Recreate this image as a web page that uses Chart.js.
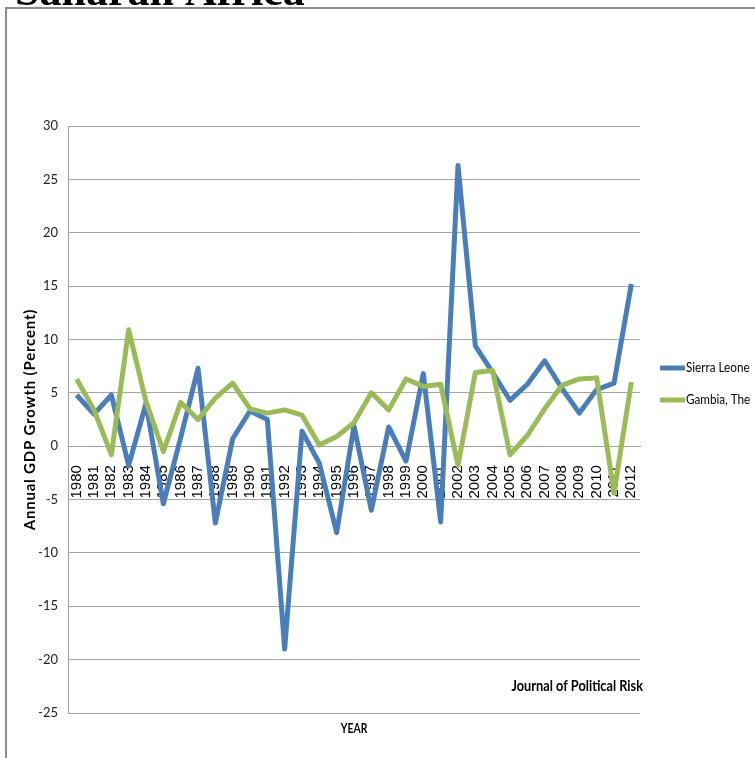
<!DOCTYPE html>
<html>
<head>
<meta charset="utf-8">
<script src="https://cdn.jsdelivr.net/npm/chart.js@4.4.1/dist/chart.umd.min.js"></script>
<style>
    html, body { margin: 0; padding: 0; background: #ffffff; overflow: hidden; }
    #graphGdp { display: block; }
</style>
</head>
<body>
<canvas id="graphGdp" width="755" height="758"></canvas>
<script>
// values
const years = ['1980','1981','1982','1983','1984','1985','1986','1987','1988','1989',
               '1990','1991','1992','1993','1994','1995','1996','1997','1998','1999',
               '2000','2001','2002','2003','2004','2005','2006','2007','2008','2009',
               '2010','2011','2012'];

const sierra_leone = [4.8, 3.0, 4.8, -1.8, 4.0, -5.4, 0.8, 7.3, -7.2, 0.7,
                      3.3, 2.5, -19.0, 1.4, -1.6, -8.1, 1.9, -6.0, 1.8, -1.4,
                      6.8, -7.1, 26.3, 9.4, 6.9, 4.3, 5.8, 8.0, 5.4, 3.1,
                      5.3, 5.9, 15.2];

const gambia = [6.3, 3.4, -0.8, 10.9, 4.2, -0.5, 4.1, 2.5, 4.5, 5.9,
                3.5, 3.1, 3.4, 2.9, 0.1, 0.9, 2.2, 5.0, 3.4, 6.3,
                5.6, 5.8, -1.8, 6.9, 7.1, -0.8, 1.0, 3.5, 5.7, 6.3,
                6.4, -4.4, 6.0];

const series_names = ['Sierra Leone', 'Gambia, The'];
const series_colors = ['#4A7EBB', '#9BBB59'];

const y_min = -25;
const y_max = 30;
const y_step = 5;

const narrow = "Lato, 'Liberation Sans', sans-serif";


// Lato is wider than the narrow face of the original, so squeeze it a bit
function fillSqueezed(ctx, text, x, y, sx){
    ctx.save();
    ctx.translate(x, y);
    ctx.scale(sx, 1);
    ctx.fillText(text, 0, 0);
    ctx.restore();
};


const pageDecor = {
    id: 'pageDecor',
    beforeDraw(chart){
        const ctx = chart.ctx;
        ctx.save();
        ctx.fillStyle = '#ffffff';
        ctx.fillRect(0, 0, chart.width, chart.height);

        // outer frame, runs off the right and bottom edges
        ctx.strokeStyle = '#8c8c8c';
        ctx.lineWidth = 2;
        ctx.strokeRect(6, 8, chart.width + 20, chart.height + 20);

        // cut off title
        ctx.fillStyle = '#000000';
        ctx.font = "bold 44px 'Liberation Serif', serif";
        ctx.textBaseline = 'alphabetic';
        ctx.textAlign = 'left';
        ctx.fillText('Saharan Africa', 15, 5);
        ctx.restore();
    },
    afterDraw(chart){
        const ctx = chart.ctx;
        const area = chart.chartArea;
        ctx.save();
        ctx.fillStyle = '#000000';
        ctx.textBaseline = 'middle';

        // y title
        ctx.font = 'bold 15px ' + narrow;
        ctx.textAlign = 'center';
        ctx.save();
        ctx.translate(30, (area.top + area.bottom) / 2);
        ctx.rotate(-Math.PI / 2);
        ctx.letterSpacing = '0.8px';
        ctx.fillText('Annual GDP Growth (Percent)', 0, 0);
        ctx.restore();

        // x title
        ctx.font = 'bold 13px ' + narrow;
        fillSqueezed(ctx, 'YEAR', (area.left + area.right) / 2, 729, 0.8);

        // source note
        ctx.font = 'bold 15px ' + narrow;
        ctx.textAlign = 'right';
        fillSqueezed(ctx, 'Journal of Political Risk', area.right + 3, 686, 0.85);

        // legend
        const datasets = chart.data.datasets;
        ctx.font = '13px ' + narrow;
        ctx.textAlign = 'left';
        for(let i = 0; i < datasets.length; i++){
            let y = 368 + i * 32;
            ctx.strokeStyle = datasets[i].borderColor;
            ctx.lineWidth = 5;
            ctx.beginPath();
            ctx.moveTo(660, y);
            ctx.lineTo(685, y);
            ctx.stroke();
            fillSqueezed(ctx, datasets[i].label, 686, y, 0.9);
        };
        ctx.restore();
    }
};


const canvasGdp = document.getElementById('graphGdp').getContext('2d');
let graphGdp = new Chart(canvasGdp, {

    type: 'line',

    data: {
        labels: years,
        datasets: [{
            label: series_names[0],
            data: sierra_leone,
            borderColor: series_colors[0],
            backgroundColor: series_colors[0],
            borderWidth: 5,
            borderJoinStyle: 'round',
            pointRadius: 0,
            tension: 0,
            order: 2
        },{
            label: series_names[1],
            data: gambia,
            borderColor: series_colors[1],
            backgroundColor: series_colors[1],
            borderWidth: 5,
            borderJoinStyle: 'round',
            pointRadius: 0,
            tension: 0,
            order: 1
        }]
    },
    options:{
        responsive: false,
        animation: false,
        devicePixelRatio: 1,
        layout:{
            padding:{
                left: 0,
                right: 115,
                top: 126,
                bottom: 45
            }
        },
        scales:{
            x:{
                position: {y: 0},
                offset: true,
                grid:{
                    display: false
                },
                border:{
                    display: true,
                    color: '#a0a0a0',
                    width: 1
                },
                ticks:{
                    autoSkip: false,
                    minRotation: 90,
                    maxRotation: 90,
                    padding: 11,
                    color: '#000000',
                    font:{
                        family: "'Liberation Sans', Arial, sans-serif",
                        size: 15
                    }
                }
            },
            y:{
                min: y_min,
                max: y_max,
                afterFit(scale){
                    scale.width = 68;
                },
                grid:{
                    color: '#a6a6a6',
                    drawTicks: false
                },
                border:{
                    display: true,
                    color: '#a0a0a0'
                },
                ticks:{
                    stepSize: y_step,
                    padding: 10,
                    color: '#222222',
                    font:{
                        family: narrow,
                        size: 13
                    }
                }
            }
        },
        plugins:{
            legend:{
                display: false
            },
            tooltip:{
                enabled: false
            }
        }
    },
    plugins: [pageDecor]
});
</script>
</body>
</html>
